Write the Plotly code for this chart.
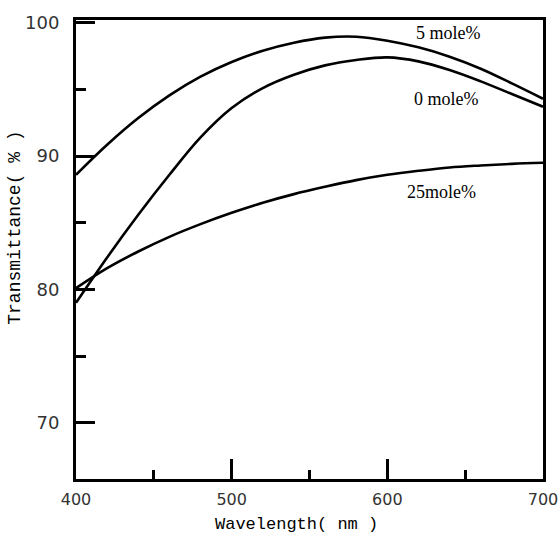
import plotly.graph_objects as go

wavelength = [400, 420, 440, 460, 480, 500, 520, 540, 560, 580, 600, 620, 640, 660, 680, 700]
t_5mole = [88.6, 90.85, 92.85, 94.55, 95.95, 97.05, 97.9, 98.5, 98.88, 98.95, 98.65, 98.15, 97.45, 96.55, 95.45, 94.3]
t_0mole = [79.0, 82.4, 85.6, 88.6, 91.4, 93.6, 95.1, 96.1, 96.8, 97.2, 97.4, 97.1, 96.45, 95.6, 94.65, 93.7]
t_25mole = [80.1, 81.6, 82.85, 83.95, 84.9, 85.75, 86.5, 87.15, 87.7, 88.2, 88.6, 88.9, 89.15, 89.3, 89.42, 89.5]

labels = ["5 mole%", "0 mole%", "25mole%"]
label_x = [639.6, 637.7, 634.5]
label_y = [99.2, 94.27, 87.3]

x_ticks = [400, 500, 600, 700]
y_ticks = [70, 80, 90, 100]

x_title = "Wavelength( nm )"
y_title = "Transmittance( % )"

fig = go.Figure()
for ys in (t_5mole, t_0mole, t_25mole):
    fig.add_trace(go.Scatter(x=wavelength, y=ys, mode="lines",
                             line=dict(color="black", width=2.6, shape="spline", smoothing=1.0),
                             showlegend=False, hoverinfo="skip"))

for t, xx, yy in zip(labels, label_x, label_y):
    fig.add_annotation(x=xx, y=yy, text=t, showarrow=False,
                       font=dict(family="Liberation Serif", size=18, color="black"))

fig.add_annotation(x=0.473, y=-0.100, xref="paper", yref="paper", text=x_title, showarrow=False,
                   xanchor="center", yanchor="middle",
                   font=dict(family="Liberation Mono", size=17, color="black"))
fig.add_annotation(x=-0.130, y=0.548, xref="paper", yref="paper", text=y_title, showarrow=False,
                   xanchor="center", yanchor="middle",
                   textangle=-90, font=dict(family="Liberation Mono", size=18, color="black"))

fig.update_layout(
    width=559, height=543,
    margin=dict(l=76, r=16, t=20, b=64, autoexpand=False),
    paper_bgcolor="white", plot_bgcolor="white",
)
fig.update_xaxes(
    range=[400, 700], tickvals=x_ticks, ticktext=[str(v) for v in x_ticks],
    showline=True, linecolor="black", linewidth=3, mirror=True,
    ticks="inside", ticklen=20, tickwidth=3, tickcolor="black",
    minor=dict(ticks="inside", ticklen=9, tickwidth=2.5, tickcolor="black", dtick=50, tick0=400),
    showgrid=False, zeroline=False, ticklabelstandoff=4, ticklabeloverflow="allow", automargin=False,
    tickfont=dict(family="DejaVu Sans", size=16, color="#333"),
)
fig.update_yaxes(
    range=[65.8, 100.2], tickvals=y_ticks, ticktext=[str(v) for v in y_ticks],
    showline=True, linecolor="black", linewidth=3, mirror=True,
    ticks="inside", ticklen=19, tickwidth=3, tickcolor="black",
    minor=dict(ticks="inside", ticklen=10, tickwidth=2.5, tickcolor="black", dtick=5, tick0=65),
    showgrid=False, zeroline=False, ticklabelstandoff=10, ticklabeloverflow="allow", automargin=False,
    tickfont=dict(family="DejaVu Sans", size=18, color="#333"),
)

fig.write_html("out.html")
